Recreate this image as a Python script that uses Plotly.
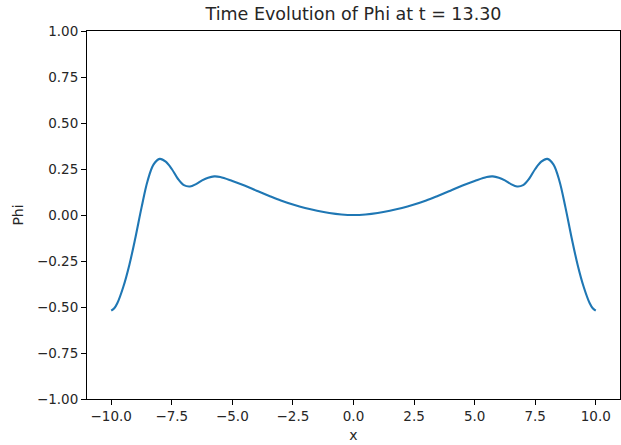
import plotly.graph_objects as go

# Data
x_vals = [-10.0, -9.875, -9.75, -9.5, -9.25, -9.0, -8.75, -8.5, -8.25, -8.0, -7.75, -7.5, -7.25,
          -7.0, -6.75, -6.5, -6.25, -6.0, -5.75, -5.5, -5.0, -4.5, -4.0, -3.5, -3.0,
          -2.5, -2.0, -1.5, -1.0, -0.5, 0.0,
          0.5, 1.0, 1.5, 2.0, 2.5, 3.0, 3.5, 4.0, 4.5, 5.0, 5.5, 5.75, 6.0, 6.25,
          6.5, 6.75, 7.0, 7.25, 7.5, 7.75, 8.0, 8.25, 8.5, 8.75, 9.0, 9.25, 9.5, 9.75, 9.875, 10.0]
phi_vals = [-0.52, -0.507, -0.48, -0.39, -0.27, -0.122, 0.04, 0.185, 0.275, 0.305, 0.29, 0.25, 0.197,
            0.162, 0.155, 0.168, 0.188, 0.203, 0.21, 0.207, 0.185, 0.16, 0.132, 0.105, 0.079,
            0.057, 0.038, 0.023, 0.011, 0.003, 0.0,
            0.003, 0.011, 0.023, 0.038, 0.057, 0.079, 0.105, 0.132, 0.16, 0.185, 0.207, 0.21, 0.203, 0.188,
            0.168, 0.155, 0.162, 0.197, 0.25, 0.29, 0.305, 0.275, 0.185, 0.04, -0.122, -0.27, -0.39, -0.48, -0.507, -0.52]

x_tick_vals = [-10.0, -7.5, -5.0, -2.5, 0.0, 2.5, 5.0, 7.5, 10.0]
x_tick_text = ["\u221210.0", "\u22127.5", "\u22125.0", "\u22122.5", "0.0", "2.5", "5.0", "7.5", "10.0"]
y_tick_vals = [-1.0, -0.75, -0.5, -0.25, 0.0, 0.25, 0.5, 0.75, 1.0]
y_tick_text = ["\u22121.00", "\u22120.75", "\u22120.50", "\u22120.25", "0.00", "0.25", "0.50", "0.75", "1.00"]

title_text = "Time Evolution of Phi at t = 13.30"

fig = go.Figure()
fig.add_trace(go.Scatter(
    x=x_vals, y=phi_vals, mode="lines",
    line=dict(color="#1f77b4", width=2.1, shape="spline", smoothing=1.0),
    showlegend=False, hoverinfo="skip",
))

font_family = "DejaVu Sans"
axis_common = dict(
    showgrid=False, zeroline=False, showline=True, linecolor="black", linewidth=1.1,
    mirror=True, ticks="outside", ticklen=5, tickwidth=1.1, tickcolor="black",
    tickfont=dict(family=font_family, size=13.5, color="#262626"),
)

fig.update_layout(
    width=621, height=445,
    margin=dict(l=87, r=1, t=31, b=46),
    paper_bgcolor="white", plot_bgcolor="white",
    font=dict(family=font_family, color="#262626"),
    title=dict(text=title_text, x=0.5, xanchor="center", xref="paper",
               y=1 - 14 / 445, yanchor="middle", yref="container",
               font=dict(family=font_family, size=17.5, color="#262626")),
    xaxis=dict(range=[-11, 11], tickvals=x_tick_vals, ticktext=x_tick_text,
               title=dict(text="x", font=dict(family=font_family, size=14, color="#262626"), standoff=6),
               **axis_common),
    yaxis=dict(range=[-1.0, 1.0], tickvals=y_tick_vals, ticktext=y_tick_text,
               title=dict(text="Phi", font=dict(family=font_family, size=14, color="#262626"), standoff=9),
               **axis_common),
)

fig.write_html("out.html", config={"displayModeBar": False},
               post_script="document.body.style.margin='0';document.body.style.overflow='hidden';")
